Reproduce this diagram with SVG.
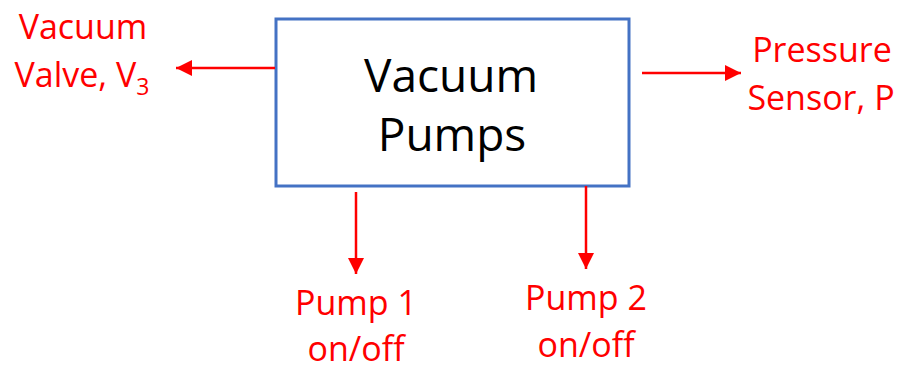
<svg xmlns="http://www.w3.org/2000/svg" width="901" height="371" viewBox="0 0 901 371">
<defs>
<style>
.lbl{font-family:"Open Sans","Liberation Sans",sans-serif;font-size:34px;fill:#FF0000;text-anchor:middle}
.ttl{font-family:"Open Sans","Liberation Sans",sans-serif;font-size:46px;fill:#000;text-anchor:middle}
.con{stroke:#FF0000;stroke-width:2.5;fill:none;marker-end:url(#ah)}
</style>
<marker id="ah" viewBox="0 0 10 10" refX="10" refY="5" markerWidth="6.5" markerHeight="6.5" markerUnits="strokeWidth" orient="auto">
<path d="M0,0 L10,5 L0,10 z" fill="#FF0000"/>
</marker>
</defs>
<rect width="901" height="371" fill="#fff"/>
<g id="box">
<rect x="276" y="19" width="353" height="167" fill="#fff" stroke="#4472C4" stroke-width="3"/>
<text class="ttl" x="451" y="92">Vacuum</text>
<text class="ttl" x="452" y="151">Pumps</text>
</g>
<g id="valve">
<text class="lbl" x="83" y="39">Vacuum</text>
<text class="lbl" x="82" y="87">Valve, V<tspan font-size="23" dy="8">3</tspan></text>
</g>
<g id="sensor">
<text class="lbl" x="822" y="62">Pressure</text>
<text class="lbl" x="821" y="110">Sensor, P</text>
</g>
<g id="pump1">
<text class="lbl" x="356" y="315">Pump 1</text>
<text class="lbl" x="356" y="361">on/off</text>
</g>
<g id="pump2">
<text class="lbl" x="586" y="310">Pump 2</text>
<text class="lbl" x="586" y="357">on/off</text>
</g>
<g id="connectors">
<line class="con" x1="275" y1="68" x2="176" y2="68"/>
<line class="con" x1="642" y1="73" x2="741" y2="73"/>
<line class="con" x1="356" y1="192" x2="356" y2="274"/>
<line class="con" x1="586" y1="186" x2="586" y2="269"/>
</g>
</svg>
